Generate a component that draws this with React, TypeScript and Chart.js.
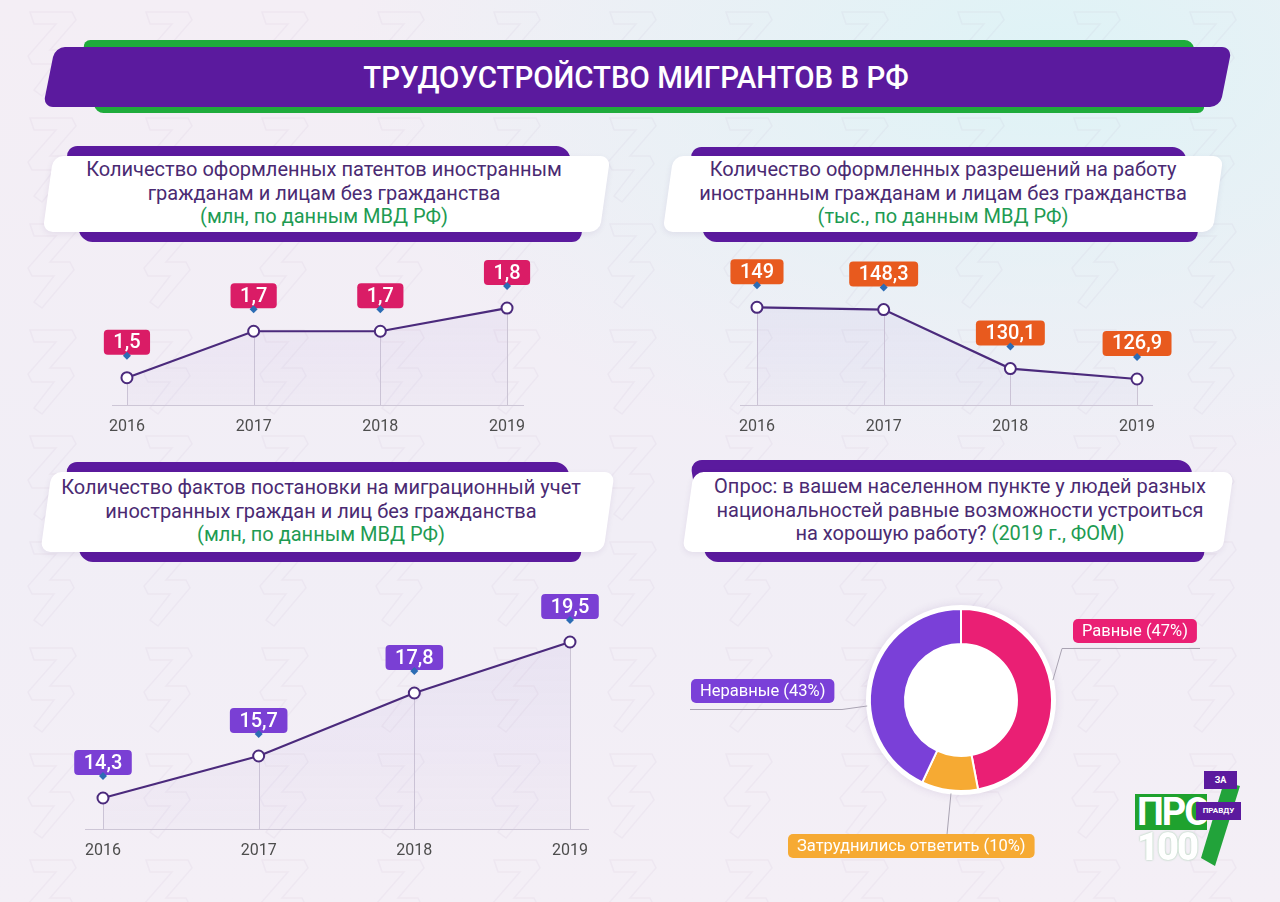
import React, { useEffect, useRef } from "react";
import { Chart, registerables } from "chart.js";

Chart.register(...registerables);
Chart.defaults.font.family = "Roboto";

// ---------- data ----------
const years = [2016, 2017, 2018, 2019];
const patents = [1.5, 1.7, 1.7, 1.8];
const permits = [149, 148.3, 130.1, 126.9];
const registrations = [14.3, 15.7, 17.8, 19.5];
const pollLabels = ["Равные", "Затруднились ответить", "Неравные"];
const pollValues = [47, 10, 43];

const fmt = (v: number) => String(v).replace(".", ",");

const LINE_COLOR = "#4b2a7c";

const stemPlugin = {
  id: "stems",
  beforeDatasetsDraw(chart: any) {
    const { ctx, chartArea } = chart;
    const meta = chart.getDatasetMeta(0);
    ctx.save();
    ctx.strokeStyle = "#cbc4d4";
    ctx.lineWidth = 1;
    meta.data.forEach((pt: any) => {
      ctx.beginPath();
      ctx.moveTo(Math.round(pt.x) + 0.5, pt.y);
      ctx.lineTo(Math.round(pt.x) + 0.5, chartArea.bottom);
      ctx.stroke();
    });
    ctx.restore();
  },
};

const makeBoxPlugin = (color: string) => ({
  id: "valueBoxes",
  afterDatasetsDraw(chart: any) {
    const ctx = chart.ctx;
    const meta = chart.getDatasetMeta(0);
    const ds = chart.data.datasets[0].data;
    ctx.save();
    ctx.font = "500 20px Roboto";
    meta.data.forEach((pt: any, i: number) => {
      const txt = fmt(ds[i].y);
      const w = ctx.measureText(txt).width + 19;
      const h = 25;
      const bx = pt.x - w / 2;
      const by = pt.y - 23 - h;
      ctx.fillStyle = color;
      ctx.beginPath();
      ctx.roundRect(bx, by, w, h, 4);
      ctx.fill();
      ctx.fillStyle = "#2c6cb4";
      ctx.beginPath();
      ctx.moveTo(pt.x, by + h - 3);
      ctx.lineTo(pt.x + 4, by + h + 1);
      ctx.lineTo(pt.x, by + h + 5);
      ctx.lineTo(pt.x - 4, by + h + 1);
      ctx.closePath();
      ctx.fill();
      ctx.fillStyle = "#ffffff";
      ctx.textAlign = "center";
      ctx.textBaseline = "middle";
      ctx.fillText(txt, pt.x, by + h / 2 + 1);
    });
    ctx.restore();
  },
});

type Area = { x0: number; x1: number; y0: number; y1: number };

function LineChart(props: {
  values: number[];
  area: Area;
  yRange: [number, number];
  xPad: [number, number];
  boxColor: string;
}) {
  const { values, area, yRange, xPad, boxColor } = props;
  const ref = useRef<HTMLCanvasElement>(null);
  const PADL = 40, PADR = 40, PADT = 45, AXIS = 30;
  const left = area.x0 - PADL;
  const top = area.y0 - PADT;
  const width = area.x1 - area.x0 + PADL + PADR;
  const height = area.y1 - area.y0 + PADT + AXIS;

  useEffect(() => {
    const chart = new Chart(ref.current as HTMLCanvasElement, {
      type: "line",
      data: {
        datasets: [
          {
            data: years.map((y, i) => ({ x: y, y: values[i] })),
            borderColor: LINE_COLOR,
            borderWidth: 2.2,
            pointRadius: 5.5,
            pointBorderWidth: 2,
            pointBackgroundColor: "#ffffff",
            pointBorderColor: LINE_COLOR,
            tension: 0,
            fill: "start",
            backgroundColor: (c: any) => {
              const ca = c.chart.chartArea;
              if (!ca) return "transparent";
              const g = c.chart.ctx.createLinearGradient(0, ca.top, 0, ca.bottom);
              g.addColorStop(0, "rgba(175,150,215,0.16)");
              g.addColorStop(1, "rgba(200,185,230,0.08)");
              return g;
            },
          },
        ],
      },
      options: {
        animation: false,
        responsive: false,
        maintainAspectRatio: false,
        layout: { padding: { left: PADL, right: PADR, top: PADT, bottom: 0 } },
        scales: {
          x: {
            type: "linear",
            min: years[0] - xPad[0],
            max: years[years.length - 1] + xPad[1],
            afterBuildTicks: (axis: any) => {
              axis.ticks = years.map((v) => ({ value: v }));
            },
            afterFit: (axis: any) => {
              axis.height = AXIS;
            },
            ticks: {
              callback: (v: any) => String(v),
              padding: 12,
              color: "#4d4d4d",
              font: { family: "Roboto", size: 16 },
              autoSkip: false,
              maxRotation: 0,
            },
            grid: { display: false, drawTicks: false },
            border: { display: true, color: "#cdc6d6", width: 1 },
          },
          y: { display: false, min: yRange[0], max: yRange[1] },
        },
        plugins: { legend: { display: false }, tooltip: { enabled: false } },
      } as any,
      plugins: [stemPlugin, makeBoxPlugin(boxColor)],
    });
    return () => chart.destroy();
  }, []);

  return (
    <canvas
      ref={ref}
      width={width}
      height={height}
      style={{ position: "absolute", left, top, width, height }}
    />
  );
}

// ---------- donut ----------
const pollColors = ["#ea1f74", "#f6aa33", "#7a40d8"];
const DL = 680, DT = 590, DW = 560, DH = 290;
const calloutLayout = [
  { bx: 1073, by: 619, under: [1062, 1200, 648], joint: [1062, 648], frac: 0.46 },
  { bx: 788, by: 834, under: null, joint: [947, 834], frac: 0.47 },
  { bx: 691, by: 679, under: [690, 842, 709], joint: [842, 709], frac: 0.395 },
];

const ringPlugin = {
  id: "ring",
  beforeDatasetsDraw(chart: any) {
    const arc = chart.getDatasetMeta(0).data[0];
    if (!arc) return;
    const { ctx } = chart;
    ctx.save();
    ctx.shadowColor = "rgba(80,40,120,0.12)";
    ctx.shadowBlur = 10;
    ctx.fillStyle = "#ffffff";
    ctx.beginPath();
    ctx.arc(arc.x, arc.y, arc.outerRadius + 4, 0, Math.PI * 2);
    ctx.fill();
    ctx.restore();
  },
};

const calloutPlugin = {
  id: "callouts",
  afterDatasetsDraw(chart: any) {
    const { ctx } = chart;
    const meta = chart.getDatasetMeta(0);
    ctx.save();
    ctx.font = "16.5px Roboto";
    meta.data.forEach((arc: any, i: number) => {
      const lay = calloutLayout[i];
      const a = arc.startAngle + lay.frac * (arc.endAngle - arc.startAngle);
      const ax = arc.x + Math.cos(a) * (arc.outerRadius + 3);
      const ay = arc.y + Math.sin(a) * (arc.outerRadius + 3);
      ctx.strokeStyle = "#a9a3b2";
      ctx.lineWidth = 1;
      ctx.beginPath();
      if (lay.under) {
        ctx.moveTo(lay.under[0] - DL, lay.under[2] - DT + 0.5);
        ctx.lineTo(lay.under[1] - DL, lay.under[2] - DT + 0.5);
      }
      ctx.moveTo(lay.joint[0] - DL, lay.joint[1] - DT + 0.5);
      ctx.lineTo(ax, ay);
      ctx.stroke();

      const txt = `${pollLabels[i]} (${pollValues[i]}%)`;
      const w = ctx.measureText(txt).width + 18;
      const h = 24;
      const bx = lay.bx - DL, by = lay.by - DT;
      ctx.fillStyle = pollColors[i];
      ctx.beginPath();
      ctx.roundRect(bx, by, w, h, 5);
      ctx.fill();
      ctx.fillStyle = "#ffffff";
      ctx.textAlign = "left";
      ctx.textBaseline = "middle";
      ctx.fillText(txt, bx + 9, by + h / 2 + 1);
    });
    ctx.restore();
  },
};

function DonutChart() {
  const ref = useRef<HTMLCanvasElement>(null);
  useEffect(() => {
    const chart = new Chart(ref.current as HTMLCanvasElement, {
      type: "doughnut",
      data: {
        labels: pollLabels,
        datasets: [
          {
            data: pollValues,
            backgroundColor: pollColors,
            borderColor: "#ffffff",
            borderWidth: 2,
          },
        ],
      },
      options: {
        animation: false,
        responsive: false,
        maintainAspectRatio: false,
        cutout: "61.5%",
        layout: { padding: { left: 189, right: 187, top: 18, bottom: 88 } },
        plugins: { legend: { display: false }, tooltip: { enabled: false } },
      } as any,
      plugins: [ringPlugin, calloutPlugin],
    });
    return () => chart.destroy();
  }, []);
  return (
    <canvas
      ref={ref}
      width={DW}
      height={DH}
      style={{ position: "absolute", left: DL, top: DT, width: DW, height: DH }}
    />
  );
}

// ---------- layout pieces ----------
const PURPLE = "#5b1a9e";
const TEXT_PURPLE = "#4a2a72";
const TEXT_GREEN = "#1e9b52";

function Skew(props: { cx: number; top: number; w: number; h: number; skew: number; color: string; r: number; shadow?: boolean }) {
  const { cx, top, w, h, skew, color, r, shadow } = props;
  return (
    <div
      style={{
        position: "absolute",
        left: cx - w / 2,
        top,
        width: w,
        height: h,
        background: color,
        borderRadius: r,
        transform: `skewX(${skew}deg)`,
        boxShadow: shadow ? "0 2px 6px rgba(60,20,100,0.08)" : undefined,
      }}
    />
  );
}

function Panel(props: {
  purpleCx: number; purpleW: number; purpleTop: number; purpleH: number;
  whiteCx: number; whiteW: number; whiteTop: number; whiteH: number;
  textCx: number; firstLine: number; lines: React.ReactNode[];
}) {
  const p = props;
  const lh = 23.5;
  return (
    <>
      <Skew cx={p.purpleCx} top={p.purpleTop} w={p.purpleW} h={p.purpleH} skew={9} color={PURPLE} r={12} />
      <Skew cx={p.whiteCx} top={p.whiteTop} w={p.whiteW} h={p.whiteH} skew={-8} color="#ffffff" r={10} shadow />
      <div
        style={{
          position: "absolute",
          left: p.textCx - 320,
          width: 640,
          top: p.firstLine - lh / 2,
          textAlign: "center",
          fontFamily: "Roboto",
          fontSize: 20,
          lineHeight: `${lh}px`,
          color: TEXT_PURPLE,
          whiteSpace: "nowrap",
        }}
      >
        {p.lines.map((l, i) => (
          <div key={i}>{l}</div>
        ))}
      </div>
    </>
  );
}

function Watermark() {
  const shape = "M10 8 L52 8 L56 16 L30 46 L50 46 L54 54 L22 92 L14 86 L34 60 L12 60 L8 52 L36 20 L14 20 Z";
  return (
    <svg width={1280} height={902} style={{ position: "absolute", left: 0, top: 0 }}>
      <defs>
        <pattern id="wm" width="116" height="106" patternUnits="userSpaceOnUse">
          <path d={shape} fill="none" stroke="rgba(150,130,175,0.07)" strokeWidth="1.5" transform="translate(20,4)" />
        </pattern>
      </defs>
      <rect x="0" y="0" width="1280" height="902" fill="url(#wm)" />
    </svg>
  );
}

function Logo() {
  return (
    <>
      <svg width={1280} height={902} style={{ position: "absolute", left: 0, top: 0 }}>
        <polygon points="1224,782 1240,786 1215,866 1201,858" fill="#22a33a" />
      </svg>
      <div style={{ position: "absolute", left: 1135, top: 794, width: 72, height: 36, background: "#1fa22e", color: "#fff", fontFamily: "Roboto", fontWeight: 700, fontSize: 38, lineHeight: "36px", letterSpacing: -2, overflow: "hidden", paddingLeft: 2, boxSizing: "border-box" }}>
        ПРО
      </div>
      <div style={{ position: "absolute", left: 1137, top: 829, color: "#ffffff", fontFamily: "Roboto", fontWeight: 900, fontSize: 38, lineHeight: "36px", letterSpacing: -2, textShadow: "0 0 2px rgba(30,150,50,0.45)" }}>
        100
      </div>
      <div style={{ position: "absolute", left: 1204, top: 771, width: 33, height: 18, background: PURPLE, color: "#fff", fontFamily: "Roboto", fontWeight: 700, fontSize: 9, lineHeight: "18px", textAlign: "center" }}>ЗА</div>
      <div style={{ position: "absolute", left: 1196, top: 802, width: 45, height: 18, background: PURPLE, color: "#fff", fontFamily: "Roboto", fontWeight: 700, fontSize: 8, lineHeight: "18px", textAlign: "center" }}>ПРАВДУ</div>
    </>
  );
}

export default function App() {
  const green = (t: string) => <span style={{ color: TEXT_GREEN }}>{t}</span>;
  return (
    <div
      style={{
        position: "absolute",
        left: 0,
        top: 0,
        width: 1280,
        height: 902,
        overflow: "hidden",
        background:
          "radial-gradient(ellipse 700px 420px at 1050px 60px, rgba(222,243,246,1) 0%, rgba(222,243,246,0) 100%), linear-gradient(180deg, #f4eef5 0%, #f1eef6 60%, #f4eff6 100%)",
      }}
    >
      <Watermark />

      {/* main banner */}
      <Skew cx={643.5} top={40} w={1110} h={73} skew={10} color="#1fab3c" r={8} />
      <Skew cx={637.5} top={47} w={1177} h={60} skew={-11.3} color={PURPLE} r={10} />
      <div
        style={{
          position: "absolute",
          left: 236,
          width: 800,
          top: 58,
          height: 40,
          lineHeight: "40px",
          textAlign: "center",
          color: "#ffffff",
          fontFamily: "Roboto",
          fontWeight: 500,
          fontSize: 31,
          transform: "scaleX(0.95)",
          whiteSpace: "nowrap",
        }}
      >
        ТРУДОУСТРОЙСТВО МИГРАНТОВ В РФ
      </div>

      <Panel
        purpleCx={324} purpleW={503} purpleTop={146} purpleH={96}
        whiteCx={326} whiteW={557} whiteTop={156} whiteH={76}
        textCx={324} firstLine={170}
        lines={["Количество оформленных патентов иностранным", "гражданам и лицам без гражданства", green("(млн, по данным МВД РФ)")]}
      />
      <Panel
        purpleCx={944} purpleW={495} purpleTop={147} purpleH={95}
        whiteCx={943} whiteW={550} whiteTop={156} whiteH={76}
        textCx={943} firstLine={170}
        lines={["Количество оформленных разрешений на работу", "иностранным гражданам и лицам без гражданства", green("(тыс., по данным МВД РФ)")]}
      />
      <Panel
        purpleCx={324} purpleW={502} purpleTop={462} purpleH={100}
        whiteCx={327} whiteW={563} whiteTop={472} whiteH={80}
        textCx={321} firstLine={488}
        lines={["Количество фактов постановки на миграционный учет", "иностранных граждан и лиц без гражданства", green("(млн, по данным МВД РФ)")]}
      />
      <Panel
        purpleCx={948} purpleW={500} purpleTop={460} purpleH={102}
        whiteCx={958} whiteW={540} whiteTop={472} whiteH={80}
        textCx={960} firstLine={487}
        lines={["Опрос: в вашем населенном пункте у людей разных", "национальностей равные возможности устроиться", <>на хорошую работу? {green("(2019 г., ФОМ)")}</>]}
      />

      <LineChart
        values={patents}
        area={{ x0: 112, x1: 523, y0: 250, y1: 405 }}
        yRange={[1.3825, 2.05]}
        xPad={[0.118, 0.126]}
        boxColor="#da1c66"
      />
      <LineChart
        values={permits}
        area={{ x0: 740, x1: 1152, y0: 250, y1: 405 }}
        yRange={[118.88, 166.66]}
        xPad={[0.134, 0.118]}
        boxColor="#e85a1e"
      />
      <LineChart
        values={registrations}
        area={{ x0: 85, x1: 588, y0: 580, y1: 829 }}
        yRange={[13.267, 21.567]}
        xPad={[0.1156, 0.1156]}
        boxColor="#7a3fd4"
      />

      <DonutChart />
      <Logo />
    </div>
  );
}
